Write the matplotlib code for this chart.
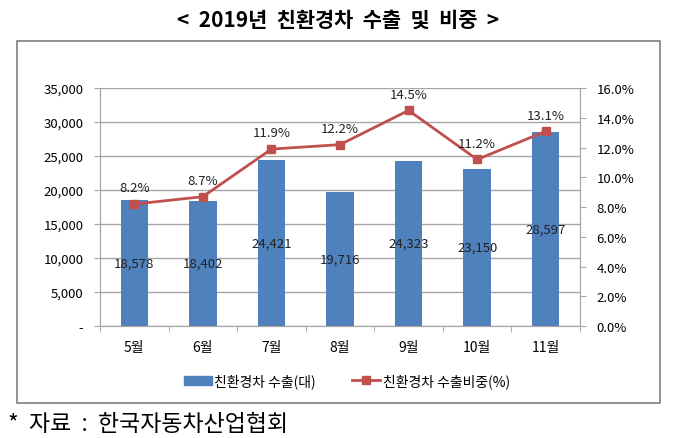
import matplotlib.pyplot as plt
import matplotlib.patches as mpatches
import numpy as np
from matplotlib.ticker import FuncFormatter, MultipleLocator

plt.rcParams['font.family'] = ['Noto Sans CJK KR', 'DejaVu Sans']

months = ['5월', '6월', '7월', '8월', '9월', '10월', '11월']
exports = [18578, 18402, 24421, 19716, 24323, 23150, 28597]
share = [8.2, 8.7, 11.9, 12.2, 14.5, 11.2, 13.1]

BAR_COLOR = '#4F81BD'
LINE_COLOR = '#C0504D'
GRID = '#A6A6A6'

fig = plt.figure(figsize=(6.8, 4.39), dpi=100)
ax = fig.add_axes([0.147, 0.255, 0.706, 0.542])
ax2 = ax.twinx()

x = np.arange(len(months))
ax.bar(x, exports, width=0.4, color=BAR_COLOR, zorder=2)
for xi, v in zip(x, exports):
    ax.text(xi, v / 2, f'{v:,}', ha='center', va='center', fontsize=9.5, color='#222222', zorder=4)

ax.set_ylim(0, 35000)
ax.set_xlim(-0.5, len(months) - 0.5)
ax.yaxis.set_major_locator(MultipleLocator(5000))
ax.yaxis.set_major_formatter(FuncFormatter(lambda v, p: '-' if v == 0 else f'{v:,.0f}'))
ax.grid(axis='y', color=GRID, linewidth=1, zorder=0)
ax.set_axisbelow(True)

ax.set_xticks(x)
ax.set_xticklabels(months, fontsize=10)
ax.set_xticks(np.arange(-0.5, len(months)), minor=True)
ax.tick_params(axis='x', which='major', length=0, pad=10)
ax.tick_params(axis='x', which='minor', length=4, color=GRID, direction='out')
ax.tick_params(axis='y', length=4, color=GRID, labelsize=9.5, pad=8)

ax2.plot(x, share, color=LINE_COLOR, linewidth=2, marker='s', markersize=6, zorder=3)
for xi, v in zip(x, share):
    ax2.annotate(f'{v:.1f}%', (xi, v), xytext=(0, 7), textcoords='offset points',
                 ha='center', va='bottom', fontsize=9.5, color='#222222')
ax2.set_ylim(0, 16)
ax2.yaxis.set_major_locator(MultipleLocator(2))
ax2.yaxis.set_major_formatter(FuncFormatter(lambda v, p: f'{v:.1f}%'))
ax2.tick_params(axis='y', length=4, color=GRID, labelsize=9.5, pad=8)

for a in (ax, ax2):
    for s in a.spines.values():
        s.set_color(GRID)
    a.spines['top'].set_visible(False)

handles = [
    mpatches.Patch(color=BAR_COLOR),
    plt.Line2D([], [], color=LINE_COLOR, linewidth=2, marker='s', markersize=6),
]
fig.legend(handles, ['친환경차 수출(대)', '친환경차 수출비중(%)'], loc='center',
           bbox_to_anchor=(0.51, 0.13), ncol=2, frameon=False, fontsize=10,
           handlelength=2.0, handletextpad=0.2, columnspacing=2.6)

# outer frame
fig.patches.append(mpatches.Rectangle((0.025, 0.080), 0.946, 0.825, transform=fig.transFigure,
                                      fill=False, edgecolor='#808080', linewidth=1.2))

fig.text(0.497, 0.953, '<  2019년  친환경차  수출  및  비중  >', ha='center', va='center',
         fontsize=15, fontweight='bold')
fig.text(0.012, 0.032, '*  자료  :  한국자동차산업협회', ha='left', va='center', fontsize=16.5)

fig.savefig('out.png', dpi=100)
